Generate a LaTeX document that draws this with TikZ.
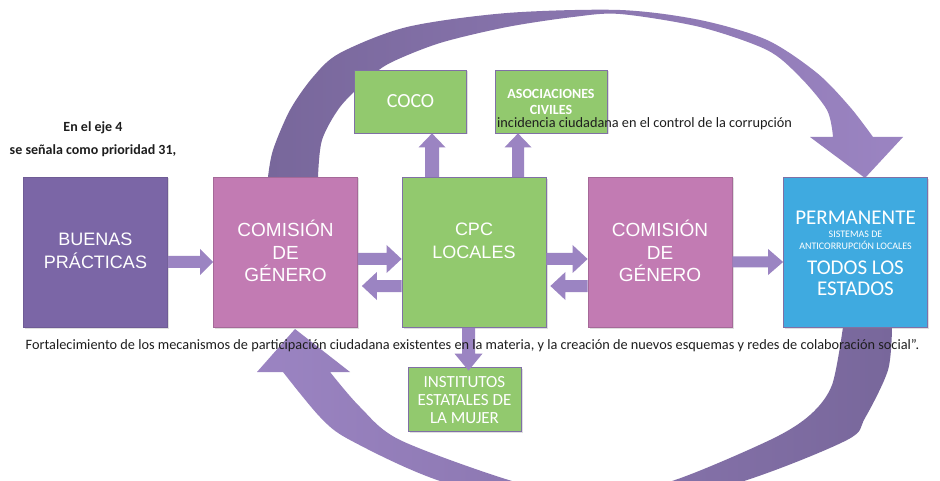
\documentclass[tikz,border=0pt]{standalone}
\usepackage{fontspec}
\setmainfont{Carlito}
\newfontfamily\arialf{Liberation Sans}
\usetikzlibrary{calc,shadows}
\definecolor{bpcol}{RGB}{123,102,166}
\definecolor{pkcol}{RGB}{194,123,179}
\definecolor{grcol}{RGB}{146,201,110}
\definecolor{blcol}{RGB}{63,170,224}
\definecolor{arcol}{RGB}{155,132,194}
\definecolor{dkcol}{RGB}{120,103,155}
\definecolor{txcol}{RGB}{30,30,30}
\definecolor{edcol}{RGB}{128,112,165}
\newcommand{\blockarrow}[5]{%
  \coordinate (ba-b) at ($(#2)!#3pt!(#1)$);
  \fill[arcol] ($(#1)!#4pt!90:(#2)$) -- ($(ba-b)!#4pt!90:(#2)$) -- ($(ba-b)!#5pt!90:(#2)$) -- (#2)
    -- ($(ba-b)!#5pt!-90:(#2)$) -- ($(ba-b)!#4pt!-90:(#2)$) -- ($(#1)!#4pt!-90:(#2)$) -- cycle;}
\begin{document}
\begin{tikzpicture}[x=1pt,y=-1pt,
  box/.style={line width=0.8pt, inner sep=0pt, text=white, align=center,
    drop shadow={shadow xshift=1.5pt,shadow yshift=-1.5pt,opacity=0.25}},
  bigbox/.style={box, minimum width=144pt, minimum height=150pt},
  smallbox/.style={box, fill=grcol, draw=edcol, minimum width=112pt, minimum height=63pt},
  lbl/.style={text=white, inner sep=0pt, align=center},
  note/.style={text=txcol, inner sep=0pt}]
\useasboundingbox (0,0) rectangle (940,481);
\fill[white] (0,0) rectangle (940,481);
\clip (0,0) rectangle (940,481);

% big curved arrows
\shade[left color=dkcol, right color=arcol]
  plot[smooth] coordinates {(268,177) (273,150) (290,110) (313,77) (340,53) (407,27) (507,13) (620,10) (700,20) (767,40) (817,73) (850,107) (873,137)}
  -- (903,137) -- (865,178) -- (810,137)
  -- plot[smooth] coordinates {(833,137) (827,110) (800,77) (767,50) (700,27) (620,14) (573,17) (507,27) (440,43) (390,63) (367,80) (340,107) (322,140) (318,177)}
  -- cycle;
\shade[left color=arcol, right color=dkcol]
  plot[smooth] coordinates {(892,327) (888,370) (865,418) (847,440) (744,481) (592,522) (440,481) (350,440) (320,417) (283,372)}
  -- (257,372) -- (295,329) -- (350,372)
  -- plot[smooth] coordinates {(330,372) (360,407) (400,440) (512,481) (592,497) (672,481) (770,440) (810,415) (832,385) (843,327)}
  -- cycle;

% boxes
\node[bigbox, fill=bpcol, draw=bpcol!90!black] (bp) at (95.5,252) {};
\node[bigbox, fill=pkcol, draw=pkcol!85!black] (cl) at (285.5,252) {};
\node[bigbox, fill=grcol, draw=edcol] (cpc) at (474,252.5) {};
\node[bigbox, fill=pkcol, draw=pkcol!85!black] (cr) at (660,252) {};
\node[bigbox, fill=blcol, draw=edcol] (perm) at (855.5,252.5) {};
\node[smallbox, font=\fontsize{20}{22}\selectfont] (coco) at (410.5,101.5) {COCO};
\node[smallbox] (asoc) at (551,101.5) {};
\node[smallbox, minimum width=113pt, minimum height=64pt] (inst) at (464.5,399) {};

% box labels
\node[lbl, font=\bfseries\fontsize{14}{15.5}\selectfont] (asoct) at ($(asoc.center)+(0,0.5)$) {ASOCIACIONES\\CIVILES};
\node[lbl, font=\fontsize{17}{18}\selectfont] (instt) at ($(inst.center)+(0,1)$) {INSTITUTOS\\ESTATALES DE\\LA MUJER};
\node[lbl, font=\arialf\fontsize{18}{23}\selectfont] (bpt) at ($(bp.center)+(0,-1)$) {BUENAS\\PRÁCTICAS};
\node[lbl, font=\arialf\fontsize{19}{22.5}\selectfont] (clt) at ($(cl.center)+(0,-1)$) {COMISIÓN\\DE\\GÉNERO};
\node[lbl, font=\arialf\fontsize{18}{23}\selectfont] (cpct) at ($(cpc.center)+(0,-12)$) {CPC\\LOCALES};
\node[lbl, font=\arialf\fontsize{19}{22.5}\selectfont] (crt) at ($(cr.center)+(0,-1)$) {COMISIÓN\\DE\\GÉNERO};
\node[lbl, anchor=base, font=\fontsize{21}{21}\selectfont] (p1) at ($(perm.center)+(0,-27.5)$) {PERMANENTE};
\node[lbl, anchor=base, font=\fontsize{10}{10}\selectfont] (p2) at ($(perm.center)+(0,-14.5)$) {SISTEMAS DE};
\node[lbl, anchor=base, font=\fontsize{10}{10}\selectfont] (p3) at ($(perm.center)+(0,-2.5)$) {ANTICORRUPCIÓN LOCALES};
\node[lbl, anchor=base, font=\fontsize{21}{21}\selectfont] (p4) at ($(perm.center)+(0,21.5)$) {TODOS LOS};
\node[lbl, anchor=base, font=\fontsize{21}{21}\selectfont] (p5) at ($(perm.center)+(0,42.5)$) {ESTADOS};

% small block arrows
\coordinate (s1) at ($(bp.east)+(0,10)$);  \coordinate (e1) at ($(cl.west)+(0,10)$);
\blockarrow{s1}{e1}{13}{6}{13}
\coordinate (s2) at ($(cl.east)+(0,7)$);   \coordinate (e2) at ($(cpc.west)+(0,6.5)$);
\blockarrow{s2}{e2}{15}{6}{14}
\coordinate (s3) at ($(cpc.west)+(0,33.5)$); \coordinate (e3) at ($(cl.east)+(4,34)$);
\blockarrow{s3}{e3}{15}{6}{14}
\coordinate (s4) at ($(cpc.east)+(0,6.5)$); \coordinate (e4) at ($(cr.west)+(0,7)$);
\blockarrow{s4}{e4}{15}{6}{14}
\coordinate (s5) at ($(cr.west)+(0,34)$);  \coordinate (e5) at ($(cpc.east)+(4,33.5)$);
\blockarrow{s5}{e5}{15}{6}{14}
\coordinate (s6) at ($(cr.east)+(0,10)$);  \coordinate (e6) at ($(perm.west)+(0,9.5)$);
\blockarrow{s6}{e6}{15}{5.5}{13}
\coordinate (s7) at ($(cpc.north)+(-42,0)$); \coordinate (e7) at (s7 |- coco.south);
\blockarrow{s7}{e7}{14}{7}{13.5}
\coordinate (s8) at ($(cpc.north)+(44,0)$); \coordinate (e8) at (s8 |- asoc.south);
\blockarrow{s8}{e8}{14}{6}{13.5}
\coordinate (s9) at ($(cpc.south)+(-5.5,0)$); \coordinate (e9) at ($(s9 |- inst.north)+(0,4)$);
\blockarrow{s9}{e9}{17}{6.5}{14}

% texts
\node[note, font=\bfseries\fontsize{14}{16}\selectfont] (t1) at (93,128) {En el eje 4};
\node[note, font=\bfseries\fontsize{14}{16}\selectfont] (t2) at (93,151) {se señala como prioridad 31,};
\node[note, anchor=west, font=\fontsize{14.3}{16}\selectfont] (t3) at (497,124) {incidencia ciudadana en el control de la corrupción};
\node[note, font=\fontsize{14.3}{16}\selectfont] (t4) at (472.5,346) {Fortalecimiento de los mecanismos de participación ciudadana existentes en la materia, y la creación de nuevos esquemas y redes de colaboración social”.};
\end{tikzpicture}
\end{document}
